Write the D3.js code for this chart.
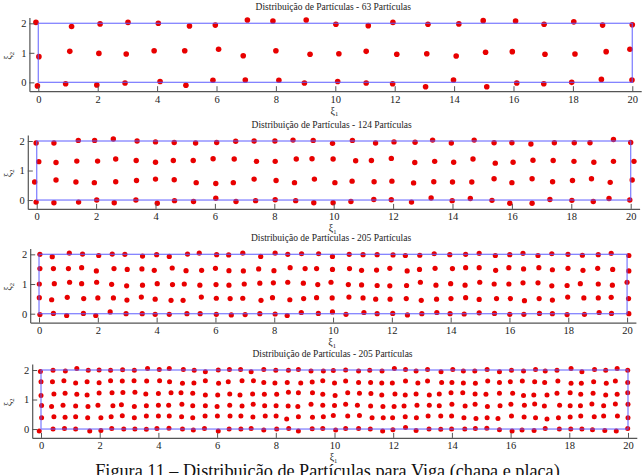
<!DOCTYPE html>
<html><head><meta charset="utf-8">
<script src="https://cdn.jsdelivr.net/npm/d3@7"></script>
<style>body{margin:0;background:#fff}svg{display:block}text{font-family:"Liberation Serif","Times New Roman",serif}</style>
</head><body><svg id="c" width="642" height="475"></svg>
<script>
const titles = [
  "Distribuição de Partículas - 63 Partículas",
  "Distribuição de Partículas - 124 Partículas",
  "Distribuição de Partículas - 205 Partículas",
  "Distribuição de Partículas - 205 Partículas"
];
const xTicks = [0, 2, 4, 6, 8, 10, 12, 14, 16, 18, 20];
const yTicks = [0, 1, 2];
const caption = "Figura 11 – Distribuição de Partículas para Viga (chapa e placa)";

const pts63 = [
[-0.08,2.03],[1.12,1.89],[2.08,1.98],[3.02,2.03],[4.04,2.0],[5.09,1.91],[5.96,1.94],[7.04,2.11],[7.9,2.08],[9.02,2.11],[10.02,1.97],[11.11,1.92],[11.94,2.03],[13.12,1.97],[14.16,1.98],[14.98,2.09],[16.07,2.08],[17.03,1.97],[18.03,2.05],[19.0,1.94],[20.0,1.95],
[0.02,0.87],[1.06,1.05],[2.04,0.98],[2.96,0.96],[3.9,1.07],[4.93,1.07],[6.07,1.12],[6.9,0.9],[8.0,1.07],[9.15,0.95],[10.12,0.97],[11.04,1.05],[12.07,0.95],[13.08,0.97],[14.07,0.89],[15.06,1.02],[15.96,1.04],[17.06,0.95],[18.07,0.96],[19.12,1.04],[19.92,1.12],
[-0.03,-0.12],[0.92,-0.05],[1.97,-0.09],[2.92,-0.02],[4.1,0.03],[4.97,-0.1],[5.88,0.07],[6.97,0.08],[8.1,0.07],[8.96,-0.02],[10.08,0.03],[11.04,-0.02],[11.93,-0.05],[13.04,-0.15],[13.98,0.08],[15.1,-0.15],[16.11,-0.02],[17.02,-0.05],[17.96,0.0],[18.96,0.1],[19.99,0.08]
];

const pts124 = [
[-0.02,1.93],[0.58,1.93],[1.4,2.02],[1.95,2.02],[2.58,2.07],[3.38,2.0],[4.0,1.97],[4.63,1.95],[5.35,1.93],[6.06,1.95],[6.7,1.99],[7.32,2.0],[8.02,2.0],[8.63,2.03],[9.31,2.02],[9.96,1.92],[10.63,2.02],[11.41,1.93],[12.03,1.97],[12.74,1.96],[13.33,2.03],[13.96,1.93],[14.73,2.03],[15.4,1.94],[16.0,1.94],[16.64,1.9],[17.43,1.94],[18.1,1.94],[18.63,1.94],[19.42,2.05],[20.0,1.95],
[0.07,1.3],[0.65,1.27],[1.35,1.32],[2.05,1.32],[2.66,1.39],[3.35,1.34],[4.0,1.28],[4.6,1.34],[5.27,1.34],[5.94,1.4],[6.65,1.39],[7.4,1.31],[8.03,1.31],[8.74,1.39],[9.27,1.4],[9.98,1.39],[10.74,1.33],[11.27,1.34],[11.94,1.41],[12.73,1.27],[13.4,1.31],[14.04,1.28],[14.69,1.39],[15.44,1.25],[16.04,1.28],[16.71,1.35],[17.39,1.34],[18.09,1.31],[18.76,1.28],[19.42,1.31],[20.11,1.31],
[-0.07,0.61],[0.65,0.68],[1.32,0.61],[1.94,0.59],[2.66,0.62],[3.36,0.66],[4.0,0.71],[4.63,0.69],[5.37,0.59],[6.03,0.56],[6.62,0.59],[7.32,0.71],[8.06,0.66],[8.68,0.59],[9.35,0.71],[10.04,0.59],[10.62,0.64],[11.36,0.62],[11.96,0.64],[12.69,0.58],[13.37,0.62],[14.0,0.61],[14.65,0.61],[15.4,0.72],[16.0,0.59],[16.68,0.72],[17.37,0.62],[18.04,0.66],[18.68,0.72],[19.31,0.6],[20.05,0.68],
[-0.02,-0.07],[0.58,-0.09],[1.41,-0.07],[2.02,0.0],[2.61,-0.09],[3.34,0.0],[4.06,-0.11],[4.64,-0.02],[5.28,-0.05],[6.03,0.06],[6.71,-0.05],[7.37,-0.02],[8.03,0.01],[8.72,-0.02],[9.33,-0.09],[9.98,-0.09],[10.58,-0.05],[11.35,0.02],[11.94,0.01],[12.62,-0.07],[13.28,0.07],[13.99,-0.02],[14.6,0.05],[15.33,-0.01],[15.93,-0.11],[16.68,-0.11],[17.28,0.02],[18.02,-0.01],[18.74,-0.05],[19.27,0.05],[19.97,0.0]
];

const pts205 = [
[0.03,2.0],[0.45,1.92],[1.03,2.04],[1.48,2.01],[2.03,1.96],[2.49,2.01],[2.92,2.0],[3.52,1.94],[4.0,1.99],[4.43,1.93],[5.05,2.01],[5.45,2.04],[6.04,1.99],[6.45,1.98],[6.93,2.04],[7.54,1.93],[8.03,2.04],[8.46,2.0],[8.93,2.02],[9.51,2.02],[9.98,1.93],[10.55,2.0],[11.02,1.99],[11.5,1.99],[12.04,1.98],[12.46,1.96],[12.95,1.97],[13.44,2.02],[13.97,1.99],[14.51,2.0],[14.97,2.03],[15.52,1.96],[16.01,1.99],[16.46,2.03],[16.97,1.96],[17.44,2.02],[17.99,2.0],[18.48,1.97],[19.02,1.99],[19.46,2.03],[20.06,1.96],
[0.03,1.52],[0.49,1.52],[1.0,1.52],[1.45,1.55],[1.95,1.44],[2.55,1.52],[3.0,1.49],[3.5,1.51],[3.92,1.46],[4.53,1.54],[5.0,1.45],[5.53,1.46],[6.0,1.53],[6.46,1.45],[6.95,1.44],[7.47,1.51],[7.99,1.45],[8.54,1.55],[9.05,1.52],[9.44,1.52],[9.98,1.49],[10.56,1.52],[10.97,1.46],[11.48,1.47],[11.93,1.53],[12.52,1.44],[12.94,1.49],[13.47,1.53],[14.06,1.52],[14.51,1.55],[14.97,1.55],[15.53,1.46],[15.98,1.55],[16.48,1.51],[17.0,1.55],[17.46,1.48],[17.99,1.53],[18.5,1.46],[19.0,1.53],[19.51,1.49],[20.06,1.44],
[0.01,1.0],[0.52,1.01],[1.04,1.06],[1.45,1.01],[1.96,1.06],[2.47,0.99],[2.98,0.94],[3.52,0.96],[4.02,1.01],[4.54,0.98],[4.94,1.0],[5.47,0.96],[6.02,0.98],[6.46,0.96],[6.98,1.0],[7.51,1.03],[7.97,1.04],[8.46,1.06],[8.99,1.03],[9.48,0.98],[9.93,1.06],[10.52,0.98],[10.97,0.97],[11.5,0.95],[11.93,0.94],[12.5,0.95],[12.97,1.06],[13.5,0.96],[14.0,1.01],[14.49,0.96],[14.99,1.06],[15.48,1.0],[15.98,1.0],[16.46,1.04],[16.97,1.04],[17.44,0.94],[17.96,0.95],[18.41,1.01],[19.02,1.0],[19.5,0.96],[20.0,1.06],
[0.01,0.54],[0.43,0.47],[0.96,0.55],[1.52,0.51],[2.0,0.53],[2.53,0.53],[2.99,0.46],[3.48,0.56],[3.95,0.49],[4.49,0.45],[4.9,0.45],[5.52,0.56],[6.03,0.52],[6.5,0.51],[6.93,0.52],[7.55,0.45],[7.94,0.54],[8.53,0.47],[9.0,0.51],[9.44,0.54],[9.97,0.53],[10.54,0.56],[11.02,0.53],[11.45,0.49],[11.94,0.49],[12.49,0.51],[13.0,0.45],[13.52,0.49],[14.01,0.51],[14.51,0.54],[14.97,0.48],[15.56,0.51],[16.03,0.51],[16.51,0.44],[17.01,0.51],[17.46,0.46],[17.98,0.56],[18.53,0.53],[19.02,0.53],[19.46,0.55],[20.05,0.51],
[0.03,-0.03],[0.49,0.01],[0.94,-0.06],[1.51,0.01],[1.93,-0.06],[2.42,0.06],[2.96,0.0],[3.51,0.0],[3.95,-0.02],[4.43,-0.02],[5.03,0.0],[5.48,0.0],[6.03,-0.02],[6.54,-0.04],[7.01,-0.03],[7.51,0.0],[8.03,-0.01],[8.44,-0.06],[8.92,0.04],[9.5,0.01],[9.98,0.06],[10.44,-0.02],[11.05,0.04],[11.5,0.0],[12.03,0.01],[12.53,-0.04],[13.02,0.0],[13.53,0.04],[13.98,0.0],[14.46,-0.01],[14.97,0.03],[15.49,0.01],[16.01,-0.02],[16.49,-0.02],[17.02,0.01],[17.46,0.0],[17.96,-0.03],[18.55,-0.02],[19.05,0.04],[19.47,0.01],[20.06,0.0]
];

const pts306 = [
[-0.02,1.95],[0.41,1.99],[0.83,1.97],[1.22,2.05],[1.61,1.99],[1.98,2.0],[2.37,1.99],[2.78,2.01],[3.18,1.99],[3.63,2.05],[4.03,2.02],[4.37,2.05],[4.85,2.02],[5.22,1.99],[5.6,1.94],[6.04,2.0],[6.42,2.02],[6.8,2.02],[7.16,1.94],[7.59,2.02],[8.0,1.99],[8.43,1.99],[8.77,2.02],[9.2,1.97],[9.62,1.97],[9.96,1.98],[10.38,2.0],[10.82,1.97],[11.2,1.99],[11.62,1.97],[12.04,2.05],[12.42,2.02],[12.78,1.97],[13.17,2.02],[13.63,1.94],[14.03,2.02],[14.39,1.97],[14.78,1.97],[15.2,2.02],[15.62,1.94],[16.03,1.99],[16.44,1.97],[16.85,2.02],[17.18,1.97],[17.58,1.99],[18.06,2.05],[18.43,1.94],[18.86,2.02],[19.24,1.99],[19.63,2.05],[19.99,1.99],
[0.0,1.6],[0.39,1.6],[0.78,1.64],[1.18,1.56],[1.57,1.6],[1.98,1.57],[2.37,1.64],[2.77,1.63],[3.17,1.64],[3.6,1.63],[4.04,1.64],[4.38,1.6],[4.82,1.55],[5.21,1.56],[5.6,1.64],[6.05,1.55],[6.38,1.6],[6.85,1.64],[7.24,1.64],[7.59,1.58],[7.97,1.56],[8.39,1.58],[8.85,1.56],[9.24,1.59],[9.6,1.64],[10.0,1.56],[10.38,1.63],[10.82,1.58],[11.23,1.58],[11.61,1.56],[11.97,1.56],[12.42,1.63],[12.84,1.56],[13.17,1.63],[13.65,1.58],[14.0,1.58],[14.39,1.56],[14.8,1.55],[15.22,1.63],[15.62,1.58],[15.99,1.6],[16.4,1.63],[16.82,1.6],[17.16,1.58],[17.61,1.63],[18.06,1.55],[18.41,1.55],[18.83,1.6],[19.26,1.55],[19.57,1.63],[19.99,1.58],
[0.0,1.14],[0.44,1.19],[0.82,1.21],[1.22,1.18],[1.57,1.15],[1.98,1.22],[2.42,1.23],[2.79,1.24],[3.2,1.25],[3.57,1.19],[4.0,1.2],[4.43,1.23],[4.77,1.23],[5.17,1.21],[5.6,1.15],[6.02,1.15],[6.43,1.19],[6.78,1.15],[7.21,1.19],[7.61,1.18],[8.03,1.18],[8.43,1.25],[8.77,1.23],[9.25,1.23],[9.6,1.18],[10.02,1.14],[10.45,1.23],[10.85,1.21],[11.24,1.2],[11.61,1.15],[12.06,1.19],[12.41,1.15],[12.78,1.19],[13.23,1.15],[13.57,1.19],[13.97,1.23],[14.37,1.23],[14.79,1.19],[15.16,1.18],[15.62,1.21],[16.07,1.21],[16.44,1.14],[16.79,1.15],[17.24,1.15],[17.58,1.21],[18.03,1.23],[18.39,1.18],[18.81,1.21],[19.24,1.15],[19.63,1.18],[19.99,1.23],
[0.02,0.8],[0.36,0.76],[0.75,0.81],[1.18,0.78],[1.6,0.76],[1.94,0.81],[2.45,0.79],[2.74,0.82],[3.18,0.76],[3.59,0.79],[4.0,0.81],[4.35,0.81],[4.8,0.84],[5.17,0.79],[5.6,0.79],[6.0,0.76],[6.43,0.81],[6.85,0.78],[7.23,0.84],[7.62,0.79],[8.01,0.79],[8.42,0.78],[8.75,0.76],[9.2,0.84],[9.6,0.81],[10.0,0.8],[10.38,0.84],[10.78,0.81],[11.23,0.78],[11.65,0.76],[12.03,0.76],[12.37,0.78],[12.81,0.81],[13.23,0.81],[13.57,0.79],[14.0,0.84],[14.45,0.78],[14.79,0.84],[15.21,0.76],[15.64,0.79],[16.01,0.84],[16.47,0.81],[16.82,0.85],[17.15,0.78],[17.67,0.81],[18.03,0.79],[18.38,0.79],[18.77,0.85],[19.17,0.79],[19.57,0.85],[20.0,0.84],
[0.02,0.38],[0.44,0.42],[0.82,0.4],[1.18,0.42],[1.59,0.38],[2.04,0.38],[2.39,0.42],[2.77,0.45],[3.18,0.38],[3.59,0.44],[4.0,0.44],[4.37,0.44],[4.79,0.42],[5.17,0.38],[5.59,0.44],[6.01,0.44],[6.44,0.44],[6.81,0.44],[7.22,0.41],[7.64,0.44],[8.01,0.44],[8.37,0.34],[8.77,0.42],[9.25,0.4],[9.62,0.42],[9.96,0.46],[10.45,0.44],[10.85,0.46],[11.28,0.38],[11.66,0.38],[11.98,0.38],[12.41,0.42],[12.79,0.38],[13.19,0.44],[13.62,0.44],[13.99,0.44],[14.41,0.38],[14.82,0.36],[15.2,0.38],[15.57,0.36],[16.03,0.44],[16.46,0.41],[16.85,0.38],[17.24,0.34],[17.63,0.38],[18.03,0.41],[18.39,0.44],[18.85,0.42],[19.17,0.44],[19.64,0.44],[20.0,0.38],
[-0.06,-0.07],[0.41,0.0],[0.8,0.02],[1.18,0.0],[1.66,-0.07],[2.04,-0.05],[2.41,0.02],[2.82,0.0],[3.2,0.0],[3.59,-0.01],[3.95,0.02],[4.36,0.03],[4.82,0.0],[5.19,-0.03],[5.57,0.02],[6.04,-0.07],[6.41,0.0],[6.81,0.0],[7.16,0.02],[7.59,-0.03],[8.03,0.0],[8.44,0.02],[8.77,-0.07],[9.24,0.01],[9.6,0.02],[10.04,-0.03],[10.38,0.02],[10.82,0.02],[11.22,0.0],[11.64,-0.07],[11.99,-0.02],[12.42,0.05],[12.78,-0.05],[13.22,0.0],[13.62,-0.01],[13.99,0.0],[14.44,0.0],[14.8,0.02],[15.19,0.03],[15.62,-0.02],[16.05,-0.07],[16.39,-0.03],[16.8,-0.05],[17.18,0.02],[17.66,0.0],[18.05,0.0],[18.43,0.0],[18.79,-0.02],[19.21,-0.05],[19.6,-0.07],[19.99,0.02]
];

const panelData = [pts63, pts124, pts205, pts306];
// axes boxes (layout)
const boxes = [
  {L:29.4, R:641.2, T:17.4, B:91.2, r:2.8},
  {L:27.8, R:639.6, T:135.1, B:208.9, r:2.7},
  {L:30.2, R:635.9, T:248.4, B:322.6, r:2.6},
  {L:32.2, R:636.8, T:364.1, B:437.9, r:2.5}
];

const svg = d3.select("#c");
const axisColor = "#555";
const serif = '"Liberation Serif","Times New Roman",serif';

panelData.forEach((pts, i) => {
  const b = boxes[i];
  const x = d3.scaleLinear().domain([-0.3, 20.3]).range([b.L, b.R]);
  const y = d3.scaleLinear().domain([-0.3, 2.2]).range([b.B, b.T]);
  const g = svg.append("g");

  g.append("g").selectAll("circle").data(pts).join("circle")
    .attr("cx", d => x(d[0])).attr("cy", d => y(d[1])).attr("r", b.r)
    .attr("fill", "#e80000");

  g.append("rect")
    .attr("x", x(0)).attr("y", y(2))
    .attr("width", x(20) - x(0)).attr("height", y(0) - y(2))
    .attr("fill", "none").attr("stroke", "#5a5aff").attr("stroke-opacity", 0.75)
    .attr("stroke-width", 1.3);

  const xa = g.append("g").attr("transform", `translate(0,${b.B})`)
    .call(d3.axisBottom(x).tickValues(xTicks).tickSize(-5).tickSizeOuter(0).tickPadding(4).tickFormat(d3.format("d")));
  const ya = g.append("g").attr("transform", `translate(${b.L},0)`)
    .call(d3.axisLeft(y).tickValues(yTicks).tickSize(-5).tickSizeOuter(0).tickPadding(3).tickFormat(d3.format("d")));
  [xa, ya].forEach(a => {
    a.attr("font-family", serif);
    a.select(".domain").attr("stroke", axisColor).attr("stroke-width", 1.2);
    a.selectAll(".tick line").attr("stroke", axisColor).attr("stroke-width", 1);
    a.selectAll(".tick text").attr("fill", "#222").style("font-size", "10.5px")
      .style("font-family", serif);
  });

  g.append("text").attr("x", x(10) - 2).attr("y", b.T - 7.5)
    .attr("text-anchor", "middle").attr("fill", "#222").style("font-size", "9.5px")
    .text(titles[i]);

  const xl = g.append("text").attr("x", x(10) - 1).attr("y", b.B + 22.5)
    .attr("text-anchor", "middle").attr("fill", "#222").style("font-size", "10px");
  xl.append("tspan").text("ξ");
  xl.append("tspan").attr("dy", 2.5).style("font-size", "6.5px").text("1");

  const yc = y(0.9);
  const yl = g.append("text").attr("transform", `translate(11,${yc}) rotate(-90)`)
    .attr("text-anchor", "middle").attr("fill", "#222").style("font-size", "10px");
  yl.append("tspan").text("ξ");
  yl.append("tspan").attr("dy", 2.5).style("font-size", "6.5px").text("2");
});

svg.append("text").attr("x", 327.5).attr("y", 477)
  .attr("text-anchor", "middle").attr("fill", "#111").style("font-size", "18.2px")
  .text(caption);
</script></body></html>
